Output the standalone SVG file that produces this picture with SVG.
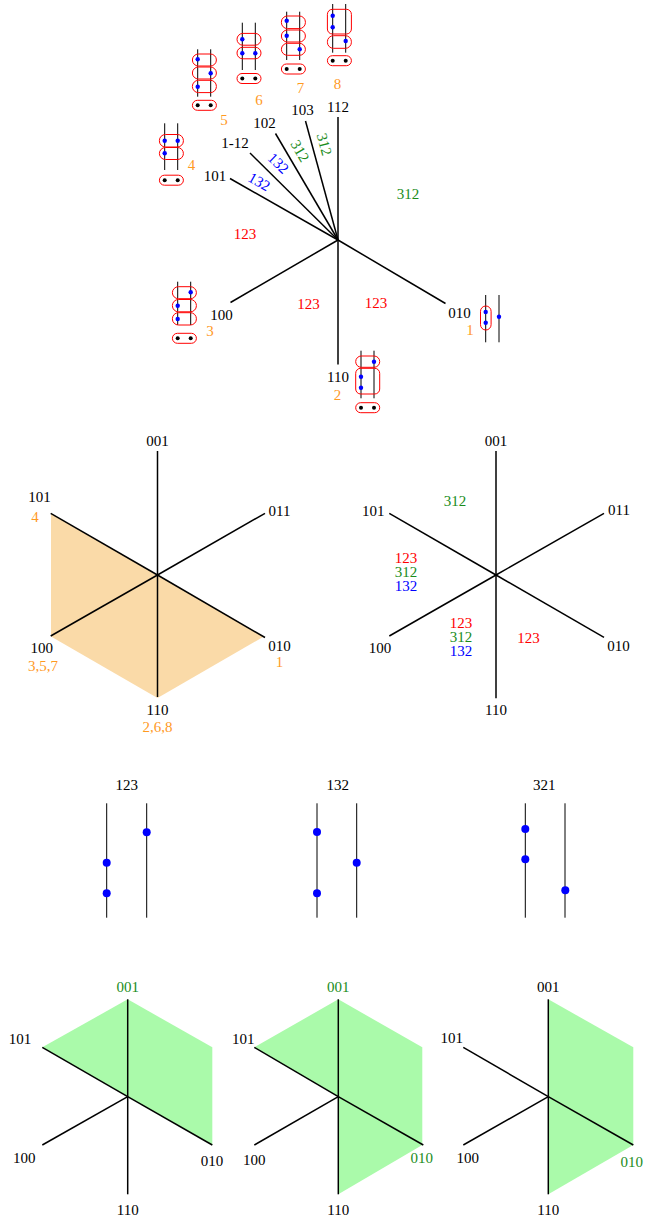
<svg xmlns="http://www.w3.org/2000/svg" width="645" height="1226" viewBox="0 0 645 1226">
<style>
text{font-family:"Liberation Serif","Times New Roman",serif;font-size:15px;text-anchor:middle;fill:#000}
.o{fill:#ff9a1f}.r{fill:#ff0000}.g{fill:#1a8c1a}.b{fill:#0000ff}
.ax{stroke:#000;stroke-width:1.5;fill:none}
.gl{stroke:#000;stroke-width:1;fill:none}
.pill{stroke:#ff0000;stroke-width:1;fill:none}
.bd{fill:#0000ff}.kd{fill:#000}
.pe{fill:#fadaa8;stroke:none}.gr{fill:#aafaaa;stroke:none}
</style>
<defs>
<g id="tail">
<rect class="pill" x="-5.3" y="0" width="24" height="10" rx="5"/>
<circle class="kd" cx="0" cy="5" r="2"/>
<circle class="kd" cx="13" cy="5" r="2"/>
</g>
</defs>

<!-- top star connectors -->
<g id="connectors-top">
<line class="ax" x1="338" y1="240" x2="338" y2="117"/>
<line class="ax" x1="338" y1="240" x2="305.5" y2="121"/>
<line class="ax" x1="338" y1="240" x2="275.5" y2="133.5"/>
<line class="ax" x1="338" y1="240" x2="250" y2="153"/>
<line class="ax" x1="338" y1="240" x2="230" y2="178.5"/>
<line class="ax" x1="338" y1="240" x2="230.5" y2="302.5"/>
<line class="ax" x1="338" y1="240" x2="445.5" y2="303.5"/>
<line class="ax" x1="338" y1="240" x2="338" y2="364.5"/>
</g>
<g id="top-labels">
<text x="338" y="112">112</text>
<text x="302.5" y="114.5">103</text>
<text x="264.5" y="127.5">102</text>
<text x="235" y="148">1-12</text>
<text x="215" y="181">101</text>
<text x="221.5" y="320">100</text>
<text x="459.5" y="318">010</text>
<text x="338" y="382">110</text>
<text class="o" x="470" y="335">1</text>
<text class="o" x="337.5" y="400">2</text>
<text class="o" x="210" y="336">3</text>
<text class="o" x="191.5" y="169.5">4</text>
<text class="o" x="224" y="125">5</text>
<text class="o" x="259" y="104.5">6</text>
<text class="o" x="300.5" y="92.5">7</text>
<text class="o" x="337.5" y="88.5">8</text>
<text class="b" transform="translate(259.3,181.7) rotate(29.5)" y="5">132</text>
<text class="b" transform="translate(278.3,163.3) rotate(44)" y="5">132</text>
<text class="g" transform="translate(300,151) rotate(59.5)" y="5">312</text>
<text class="g" transform="translate(324.3,144.3) rotate(75)" y="5">312</text>
<text class="g" x="408" y="199">312</text>
<text class="r" x="245" y="239">123</text>
<text class="r" x="308.5" y="309">123</text>
<text class="r" x="376" y="308">123</text>
</g>

<!-- glyph 1 -->
<g id="glyph1">
<line class="gl" x1="485.7" y1="295" x2="485.7" y2="342.3"/>
<line class="gl" x1="499" y1="295" x2="499" y2="342.3"/>
<rect class="pill" x="480.5" y="306" width="10.6" height="24" rx="5.3"/>
<circle class="bd" cx="485.7" cy="312" r="2.2"/>
<circle class="bd" cx="485.7" cy="322.7" r="2.2"/>
<circle class="bd" cx="499" cy="316.7" r="2.2"/>
</g>
<!-- glyph 2 -->
<g id="glyph2">
<line class="gl" x1="361" y1="350.7" x2="361" y2="398.3"/>
<line class="gl" x1="374" y1="350.7" x2="374" y2="398.3"/>
<rect class="pill" x="355.7" y="356" width="24" height="11.3" rx="5.6"/>
<rect class="pill" x="355.7" y="368.3" width="24" height="25.7" rx="5"/>
<circle class="bd" cx="374" cy="361.7" r="2.2"/>
<circle class="bd" cx="361" cy="376.7" r="2.2"/>
<circle class="bd" cx="361" cy="387.7" r="2.2"/>
<use href="#tail" x="361" y="402.7"/>
</g>
<!-- glyph 3 -->
<g id="glyph3">
<line class="gl" x1="177.7" y1="281.7" x2="177.7" y2="325"/>
<line class="gl" x1="190.7" y1="281.7" x2="190.7" y2="325"/>
<rect class="pill" x="172.4" y="286.7" width="24" height="12" rx="6"/>
<rect class="pill" x="172.4" y="299.5" width="24" height="12.3" rx="6"/>
<rect class="pill" x="172.4" y="312.7" width="24" height="12.3" rx="6"/>
<circle class="bd" cx="190.7" cy="292.3" r="2.2"/>
<circle class="bd" cx="177.7" cy="305.7" r="2.2"/>
<circle class="bd" cx="177.7" cy="319" r="2.2"/>
<use href="#tail" x="177.7" y="333.3"/>
</g>
<!-- glyph 4 -->
<g id="glyph4">
<line class="gl" x1="164.7" y1="123.3" x2="164.7" y2="170"/>
<line class="gl" x1="177.7" y1="123.3" x2="177.7" y2="170"/>
<rect class="pill" x="159.4" y="134.5" width="24" height="12.5" rx="6"/>
<rect class="pill" x="159.4" y="147.5" width="24" height="12" rx="6"/>
<circle class="bd" cx="164.7" cy="140.7" r="2.2"/>
<circle class="bd" cx="177.7" cy="140.7" r="2.2"/>
<circle class="bd" cx="164.7" cy="153.3" r="2.2"/>
<use href="#tail" x="164.7" y="175.2"/>
</g>
<!-- glyph 5 -->
<g id="glyph5">
<line class="gl" x1="197.7" y1="49.3" x2="197.7" y2="96.7"/>
<line class="gl" x1="210.7" y1="49.3" x2="210.7" y2="96.7"/>
<rect class="pill" x="192.4" y="54" width="24" height="12" rx="6"/>
<rect class="pill" x="192.4" y="67" width="24" height="12" rx="6"/>
<rect class="pill" x="192.4" y="80.3" width="24" height="12.3" rx="6"/>
<circle class="bd" cx="197.7" cy="59.3" r="2.2"/>
<circle class="bd" cx="210.7" cy="73.3" r="2.2"/>
<circle class="bd" cx="197.7" cy="86.7" r="2.2"/>
<use href="#tail" x="197.7" y="100.3"/>
</g>
<!-- glyph 6 -->
<g id="glyph6">
<line class="gl" x1="242.3" y1="22.7" x2="242.3" y2="70"/>
<line class="gl" x1="255.3" y1="22.7" x2="255.3" y2="70"/>
<rect class="pill" x="237" y="33.4" width="24" height="11.8" rx="5.9"/>
<rect class="pill" x="237" y="47.3" width="24" height="11.5" rx="5.7"/>
<circle class="bd" cx="242.3" cy="39.3" r="2.2"/>
<circle class="bd" cx="242.3" cy="53.3" r="2.2"/>
<circle class="bd" cx="255.3" cy="53.3" r="2.2"/>
<use href="#tail" x="242.3" y="73.5"/>
</g>
<!-- glyph 7 -->
<g id="glyph7">
<line class="gl" x1="286.7" y1="11.7" x2="286.7" y2="60"/>
<line class="gl" x1="299.7" y1="11.7" x2="299.7" y2="60"/>
<rect class="pill" x="281.4" y="16" width="24" height="12.6" rx="6"/>
<rect class="pill" x="281.4" y="30" width="24" height="12" rx="6"/>
<rect class="pill" x="281.4" y="43.3" width="24" height="12" rx="6"/>
<circle class="bd" cx="286.7" cy="20.7" r="2.2"/>
<circle class="bd" cx="286.7" cy="35.7" r="2.2"/>
<circle class="bd" cx="299.7" cy="49.3" r="2.2"/>
<use href="#tail" x="286.7" y="64"/>
</g>
<!-- glyph 8 -->
<g id="glyph8">
<line class="gl" x1="332.7" y1="4" x2="332.7" y2="52.7"/>
<line class="gl" x1="345.7" y1="4" x2="345.7" y2="52.7"/>
<rect class="pill" x="327.4" y="9.3" width="24" height="24.7" rx="5"/>
<rect class="pill" x="327.4" y="35.7" width="24" height="12.6" rx="6"/>
<circle class="bd" cx="332.7" cy="15.7" r="2.2"/>
<circle class="bd" cx="332.7" cy="27.3" r="2.2"/>
<circle class="bd" cx="345.7" cy="41" r="2.2"/>
<use href="#tail" x="332.7" y="55.7"/>
</g>

<!-- middle left hexagon -->
<g id="hex-left">
<polygon class="pe" points="51,513.5 157.5,575 264,636.5 157.5,698 51,636.5"/>
<line class="ax" x1="157.5" y1="575" x2="157.5" y2="451"/>
<line class="ax" x1="157.5" y1="575" x2="265" y2="513.3"/>
<line class="ax" x1="157.5" y1="575" x2="265" y2="637.5"/>
<line class="ax" x1="157.5" y1="575" x2="157.5" y2="697"/>
<line class="ax" x1="157.5" y1="575" x2="50.7" y2="636"/>
<line class="ax" x1="157.5" y1="575" x2="50.7" y2="513.3"/>
<text x="157.5" y="446">001</text>
<text x="39.5" y="501.7">101</text>
<text class="o" x="35" y="522">4</text>
<text x="279.5" y="515.7">011</text>
<text x="279.5" y="651">010</text>
<text class="o" x="279.5" y="666.7">1</text>
<text x="41.7" y="653.3">100</text>
<text class="o" x="43" y="670.7">3,5,7</text>
<text x="157.5" y="715">110</text>
<text class="o" x="157.5" y="731.7">2,6,8</text>
</g>

<!-- middle right hexagon -->
<g id="hex-right">
<line class="ax" x1="496" y1="575" x2="496" y2="451"/>
<line class="ax" x1="496" y1="575" x2="604" y2="513.3"/>
<line class="ax" x1="496" y1="575" x2="604" y2="637.3"/>
<line class="ax" x1="496" y1="575" x2="496" y2="698.3"/>
<line class="ax" x1="496" y1="575" x2="389.3" y2="636"/>
<line class="ax" x1="496" y1="575" x2="389.3" y2="513.3"/>
<text x="496" y="446">001</text>
<text x="373.3" y="515.7">101</text>
<text x="619" y="514.5">011</text>
<text x="618.5" y="651">010</text>
<text x="380" y="653.3">100</text>
<text x="496" y="715">110</text>
<text class="g" x="455" y="506">312</text>
<text class="r" x="406" y="562.5">123</text>
<text class="g" x="406" y="576.5">312</text>
<text class="b" x="406" y="590.5">132</text>
<text class="r" x="461" y="628">123</text>
<text class="g" x="461" y="642">312</text>
<text class="b" x="461" y="656">132</text>
<text class="r" x="528.5" y="642.5">123</text>
</g>

<!-- permutation diagrams -->
<g id="perm-123">
<text x="126.7" y="790">123</text>
<line class="gl" x1="106.7" y1="803.3" x2="106.7" y2="917.7" stroke-width="1.3"/>
<line class="gl" x1="146.7" y1="803.3" x2="146.7" y2="917.7" stroke-width="1.3"/>
<circle class="bd" cx="146.7" cy="832.3" r="4"/>
<circle class="bd" cx="106.7" cy="862.7" r="4"/>
<circle class="bd" cx="106.7" cy="893.3" r="4"/>
</g>
<g id="perm-132">
<text x="337.7" y="790">132</text>
<line class="gl" x1="317" y1="803.3" x2="317" y2="917.7" stroke-width="1.3"/>
<line class="gl" x1="356.7" y1="803.3" x2="356.7" y2="917.7" stroke-width="1.3"/>
<circle class="bd" cx="317" cy="832" r="4"/>
<circle class="bd" cx="356.7" cy="862.7" r="4"/>
<circle class="bd" cx="317" cy="893.3" r="4"/>
</g>
<g id="perm-321">
<text x="544.3" y="790">321</text>
<line class="gl" x1="525.3" y1="803.3" x2="525.3" y2="917.7" stroke-width="1.3"/>
<line class="gl" x1="565" y1="803.3" x2="565" y2="917.7" stroke-width="1.3"/>
<circle class="bd" cx="525.3" cy="829" r="4"/>
<circle class="bd" cx="525.3" cy="859.3" r="4"/>
<circle class="bd" cx="565.3" cy="890.3" r="4"/>
</g>

<!-- bottom panels -->
<g id="panel-1">
<polygon class="gr" points="42.3,1047.3 127.7,999.3 212.3,1047.3 212.3,1145 127.7,1096.7"/>
<line class="ax" x1="127.7" y1="1096.7" x2="127.7" y2="999.3"/>
<line class="ax" x1="127.7" y1="1096.7" x2="42.3" y2="1047.3"/>
<line class="ax" x1="127.7" y1="1096.7" x2="42.3" y2="1145"/>
<line class="ax" x1="127.7" y1="1096.7" x2="127.7" y2="1194.3"/>
<line class="ax" x1="127.7" y1="1096.7" x2="212.3" y2="1145"/>
<text class="g" x="127.7" y="991.7">001</text>
<text x="20" y="1044">101</text>
<text x="24.3" y="1163">100</text>
<text x="212" y="1166">010</text>
<text x="127.7" y="1215">110</text>
</g>
<g id="panel-2">
<polygon class="gr" points="254.3,1047.3 338.3,999.3 422.3,1047.3 422.3,1145 338.3,1194.3 338.3,1096.7"/>
<line class="ax" x1="338.3" y1="1096.7" x2="338.3" y2="999.3"/>
<line class="ax" x1="338.3" y1="1096.7" x2="254.3" y2="1047.3"/>
<line class="ax" x1="338.3" y1="1096.7" x2="254.3" y2="1145"/>
<line class="ax" x1="338.3" y1="1096.7" x2="338.3" y2="1194.3"/>
<line class="ax" x1="338.3" y1="1096.7" x2="423.3" y2="1145"/>
<text class="g" x="338.3" y="991.7">001</text>
<text x="243.3" y="1044">101</text>
<text x="254.3" y="1165">100</text>
<text class="g" x="421.7" y="1163">010</text>
<text x="338.3" y="1215">110</text>
</g>
<g id="panel-3">
<polygon class="gr" points="548.3,999.3 633.3,1047.3 633.3,1145 548.3,1194.3"/>
<line class="ax" x1="548.3" y1="1096.7" x2="548.3" y2="999.3"/>
<line class="ax" x1="548.3" y1="1096.7" x2="463.3" y2="1047.3"/>
<line class="ax" x1="548.3" y1="1096.7" x2="463.3" y2="1145"/>
<line class="ax" x1="548.3" y1="1096.7" x2="548.3" y2="1194.3"/>
<line class="ax" x1="548.3" y1="1096.7" x2="633.3" y2="1145"/>
<text x="548.3" y="991.7">001</text>
<text x="451.7" y="1043">101</text>
<text x="467.7" y="1163">100</text>
<text class="g" x="631.7" y="1166.5">010</text>
<text x="548.3" y="1215">110</text>
</g>
</svg>
